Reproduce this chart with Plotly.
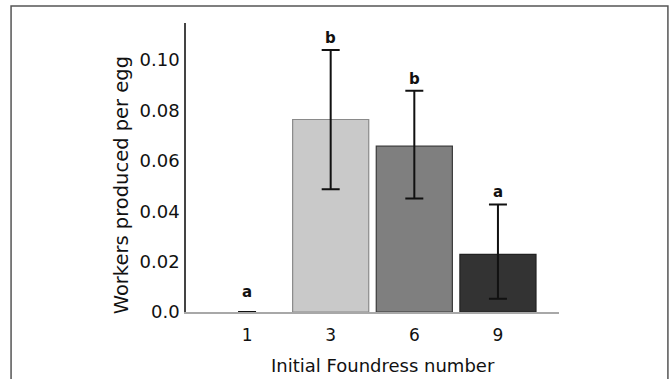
import plotly.graph_objects as go

categories = ["1", "3", "6", "9"]
means = [0.0, 0.0764, 0.0658, 0.0229]
upper = [0.0, 0.104, 0.0878, 0.0427]
lower = [0.0, 0.0487, 0.045, 0.0053]
letters = ["a", "b", "b", "a"]
bar_colors = ["#ffffff", "#c9c9c9", "#7f7f7f", "#333333"]
bar_edges = ["rgba(0,0,0,0)", "#8a8a8a", "#3a3a3a", "#222222"]
ytick_vals = [0.0, 0.02, 0.04, 0.06, 0.08, 0.10]
ytick_text = ["0.0", "0.02", "0.04", "0.06", "0.08", "0.10"]

err_plus = [u - m for u, m in zip(upper, means)]
err_minus = [m - l for m, l in zip(means, lower)]

FONT = "DejaVu Sans"

fig = go.Figure()
fig.add_trace(go.Bar(
    x=list(range(len(categories))),
    y=means,
    marker=dict(color=bar_colors, line=dict(color=bar_edges, width=1.2)),
    error_y=dict(type="data", symmetric=False, array=err_plus, arrayminus=err_minus,
                 color="#111111", thickness=2, width=9),
    width=0.91,
    showlegend=False,
))

for i, (lab, up) in enumerate(zip(letters, upper)):
    fig.add_annotation(x=i, y=up, text=lab, showarrow=False,
                       xref="x", yref="y", yanchor="middle",
                       yshift=20 if up == 0 else 12,
                       font=dict(family=FONT, size=15, color="#111111", weight="bold"))

# axis titles placed as in the reference
fig.add_annotation(text="Workers produced per egg", textangle=-90, showarrow=False,
                   xref="paper", yref="paper", x=-0.172, y=0.438,
                   xanchor="center", yanchor="middle",
                   font=dict(family=FONT, size=19.5, color="#111111"))
fig.add_annotation(text="Initial Foundress number", showarrow=False,
                   xref="paper", yref="paper", x=0.529, y=-0.185,
                   xanchor="center", yanchor="middle",
                   font=dict(family=FONT, size=18, color="#111111"))

# outer frame of the figure panel
fig.add_shape(type="rect", xref="paper", yref="paper",
              x0=-0.469, x1=1.292, y0=-0.30, y1=1.059,
              line=dict(color="#555555", width=1.5), fillcolor="rgba(0,0,0,0)", layer="below")

fig.update_layout(
    width=670, height=379,
    margin=dict(l=186, r=111, t=23, b=67),
    paper_bgcolor="white", plot_bgcolor="white",
    font=dict(family=FONT, color="#111111"),
    bargap=0.09,
    xaxis=dict(range=[-0.73, 3.73], tickmode="array", tickvals=list(range(len(categories))),
               ticktext=categories, showgrid=False, zeroline=False,
               showline=True, linecolor="#a8a8a8", linewidth=2, ticks="",
               tickfont=dict(size=17), ticklabelstandoff=7),
    yaxis=dict(range=[0, 0.1147], tickmode="array", tickvals=ytick_vals, ticktext=ytick_text,
               showgrid=False, zeroline=False, showline=True, linecolor="#444444", linewidth=1.5,
               ticks="", tickfont=dict(size=18), ticklabelstandoff=1),
)

fig.write_html("out.html")
